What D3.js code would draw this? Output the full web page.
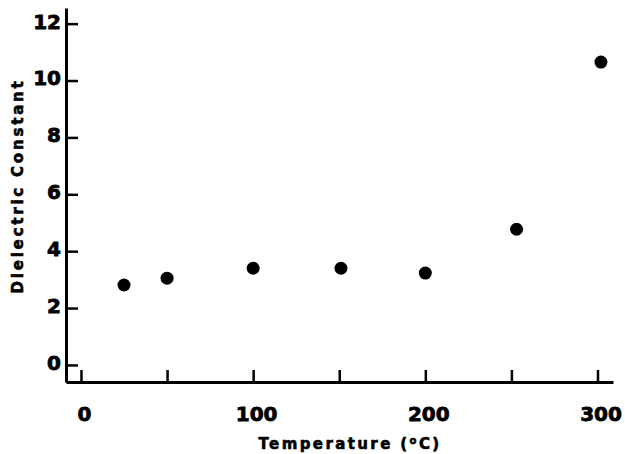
<!DOCTYPE html>
<html>
<head>
<meta charset="utf-8">
<script src="https://cdn.jsdelivr.net/npm/d3@7"></script>
<style>
  html, body { margin: 0; padding: 0; background: #fff; }
  svg { display: block; }
  text { font-family: "DejaVu Sans", "Liberation Sans", Arial, sans-serif; font-weight: bold; fill: #000; }
</style>
</head>
<body>
<svg id="chart" width="625" height="454"></svg>
<script>
// Data
const temperature = [25, 50, 100, 151, 200, 253, 302];          // °C
const dielectric  = [2.81, 3.05, 3.40, 3.40, 3.23, 4.77, 10.65]; // dielectric constant
const xTicks = [0, 50, 100, 150, 200, 250, 300];
const xTickLabels = [0, 100, 200, 300];
const yTicks = [0, 2, 4, 6, 8, 10, 12];
const xTitle = "Temperature (";
const yTitle = "Dielectric Constant";

const svg = d3.select("#chart");

const x = d3.scaleLinear().domain([-8.7, 309]).range([66, 613]);
const y = d3.scaleLinear().domain([-0.6, 12.55]).range([382, 8]);

// Y axis
const yAxis = d3.axisLeft(y)
  .tickValues(yTicks)
  .tickSize(-12)
  .tickSizeOuter(0)
  .tickPadding(5)
  .tickFormat(d3.format("d"));
const gy = svg.append("g").attr("transform", `translate(${x.range()[0]},0)`).call(yAxis);
gy.select(".domain").attr("stroke-width", 3);
gy.selectAll(".tick line").attr("stroke-width", 2.5);
gy.selectAll(".tick text")
  .attr("dy", "0.22em")
  .attr("stroke", "#000")
  .attr("stroke-width", 0.8)
  .style("font-size", "20px");

// X axis
const xAxis = d3.axisBottom(x)
  .tickValues(xTicks)
  .tickSize(-12)
  .tickSizeOuter(0)
  .tickPadding(25)
  .tickFormat(d => xTickLabels.includes(d) ? String(d) : "");
const gx = svg.append("g").attr("transform", `translate(0,${y.range()[0]})`).call(xAxis);
gx.select(".domain").attr("stroke-width", 3);
gx.selectAll(".tick line").attr("stroke-width", 2.5);
gx.selectAll(".tick text")
  .attr("dx", 3)
  .attr("stroke", "#000")
  .attr("stroke-width", 0.8)
  .style("font-size", "20px");

// Points
svg.append("g").selectAll("circle")
  .data(temperature.map((t, i) => [t, dielectric[i]]))
  .join("circle")
  .attr("cx", d => x(d[0]))
  .attr("cy", d => y(d[1]))
  .attr("r", 6.5)
  .attr("fill", "#000");

// X title
const xt = svg.append("text")
  .attr("x", 350)
  .attr("y", 449)
  .attr("text-anchor", "middle")
  .attr("stroke", "#000")
  .attr("stroke-width", 0.6)
  .style("font-size", "15px")
  .style("letter-spacing", "2.4px");
xt.append("tspan").text(xTitle);
xt.append("tspan").attr("dy", -5).style("font-size", "10px").text("o");
xt.append("tspan").attr("dy", 5).text("C)");

// Y title
svg.append("text")
  .attr("transform", "translate(23,186) rotate(-90)")
  .attr("text-anchor", "middle")
  .attr("stroke", "#000")
  .attr("stroke-width", 0.6)
  .style("font-size", "15px")
  .style("letter-spacing", "2.8px")
  .text(yTitle);
</script>
</body>
</html>
